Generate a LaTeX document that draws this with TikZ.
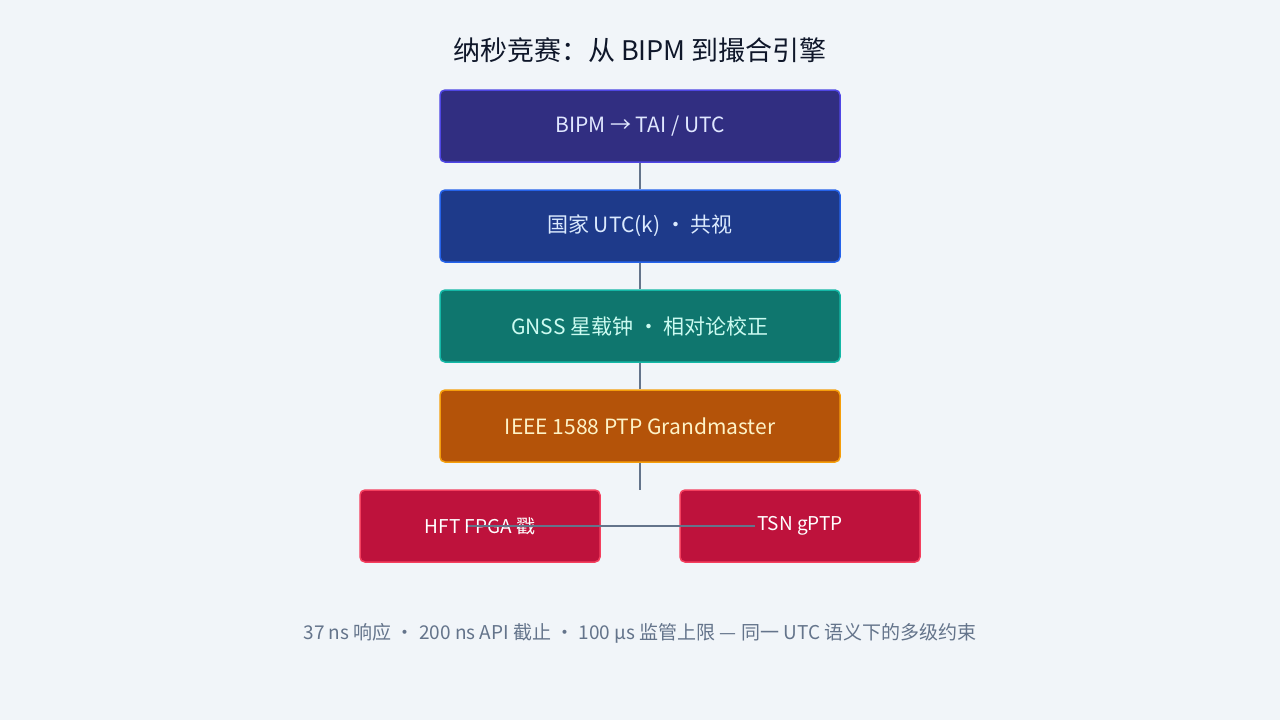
\documentclass[tikz,border=0pt]{standalone}
\usepackage{fontspec}
\setmainfont{Noto Sans CJK SC}
\usetikzlibrary{positioning}
\definecolor{bg}{HTML}{F1F5F9}
\definecolor{wire}{HTML}{64748B}
\definecolor{titlec}{HTML}{0F172A}
\begin{document}
\begin{tikzpicture}[x=1pt, y=-1pt,
  box/.style={draw, line width=1.5pt, rounded corners=5pt, minimum width=400pt, minimum height=72pt, font=\fontsize{21}{24}\selectfont},
  leaf/.style={box, minimum width=240pt, font=\fontsize{19}{22}\selectfont, fill=red!75!black, draw=red!60!white, text=white}]
\fill[bg] (0,0) rectangle (1280,720);

\node[text=titlec, font=\fontsize{27}{30}\selectfont] (title) at (640, 50) {纳秒竞赛：从 BIPM 到撮合引擎};

\node[box, fill={rgb,255:red,49;green,46;blue,129}, draw={rgb,255:red,79;green,70;blue,229}, text={rgb,255:red,224;green,231;blue,255}] (bipm) at (640, 126) {BIPM → TAI / UTC};
\node[box, fill={rgb,255:red,30;green,58;blue,138}, draw={rgb,255:red,37;green,99;blue,235}, text={rgb,255:red,219;green,234;blue,254}] (utck) at (640, 226) {国家 UTC(k) · 共视};
\node[box, fill={rgb,255:red,15;green,118;blue,110}, draw={rgb,255:red,20;green,184;blue,166}, text={rgb,255:red,204;green,251;blue,241}] (gnss) at (640, 326) {GNSS 星载钟 · 相对论校正};
\node[box, fill={rgb,255:red,180;green,83;blue,9}, draw={rgb,255:red,245;green,158;blue,11}, text={rgb,255:red,254;green,243;blue,199}] (ptp) at (640, 426) {IEEE 1588 PTP Grandmaster};

\node[leaf, fill={rgb,255:red,190;green,18;blue,60}, draw={rgb,255:red,244;green,63;blue,94}] (hft) at (480, 526) {HFT FPGA 戳};
\node[leaf, fill={rgb,255:red,190;green,18;blue,60}, draw={rgb,255:red,244;green,63;blue,94}] (tsn) at (800, 526) {TSN gPTP};

\node[text=wire, font=\fontsize{19}{22}\selectfont] (note) at (640, 633) {37 ns 响应 · 200 ns API 截止 · 100 μs 监管上限 — 同一 UTC 语义下的多级约束};

\coordinate (fork) at (640, 490);
\coordinate (hftend) at (468, 526);
\coordinate (tsnend) at (755, 526);

\draw[wire, line width=1.5pt] (bipm) -- (utck);
\draw[wire, line width=1.5pt] (utck) -- (gnss);
\draw[wire, line width=1.5pt] (gnss) -- (ptp);
\draw[wire, line width=1.5pt] (ptp) -- (fork);
\draw[wire, line width=1.5pt] (hftend) -- (tsnend);
\end{tikzpicture}
\end{document}
